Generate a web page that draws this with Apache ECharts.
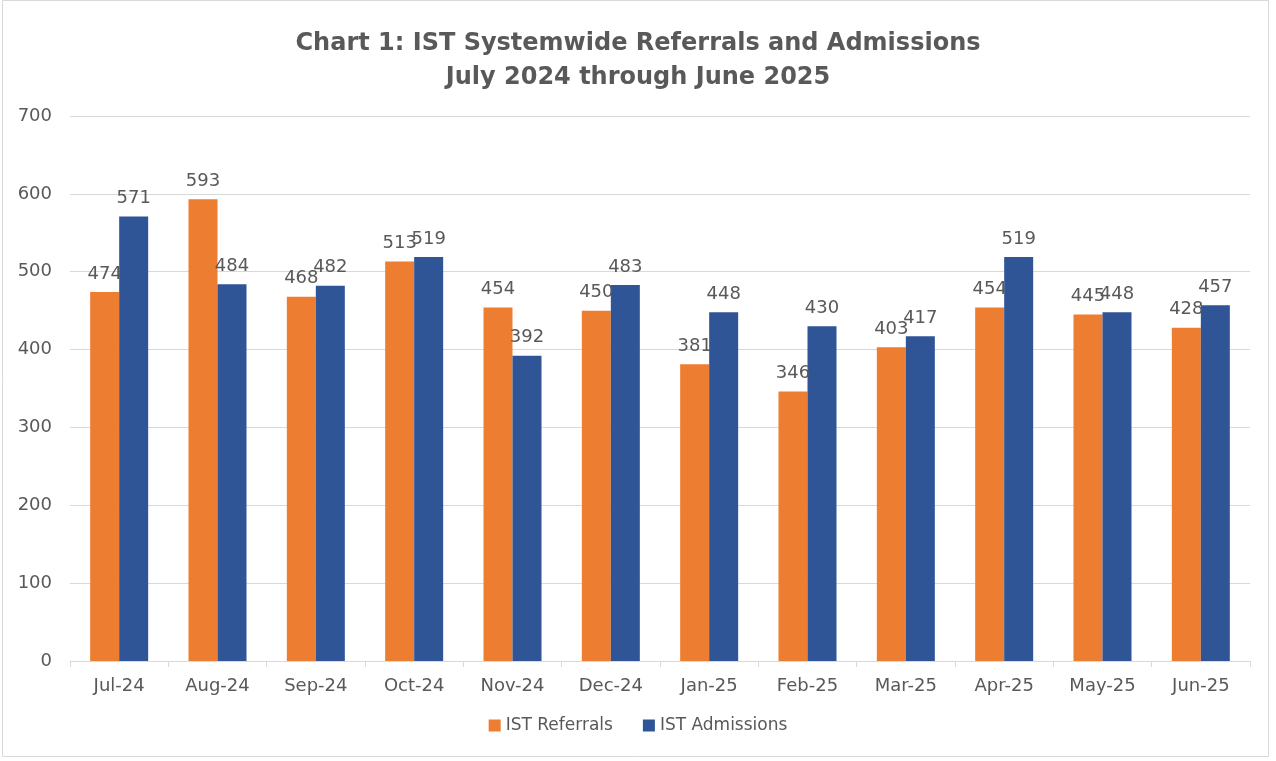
<!DOCTYPE html>
<html>
<head>
<meta charset="utf-8">
<script src="https://cdn.jsdelivr.net/npm/echarts@6/dist/echarts.min.js"></script>
<style>
  html, body { margin: 0; padding: 0; background: #fff; }
  #main { width: 1276px; height: 761px; }
</style>
</head>
<body>
<div id="main"></div>
<script>
"use strict";

var months = ['Jul-24', 'Aug-24', 'Sep-24', 'Oct-24', 'Nov-24', 'Dec-24',
              'Jan-25', 'Feb-25', 'Mar-25', 'Apr-25', 'May-25', 'Jun-25'];
var referrals = [474, 593, 468, 513, 454, 450, 381, 346, 403, 454, 445, 428];
var admissions = [571, 484, 482, 519, 392, 483, 448, 430, 417, 519, 448, 457];
var yTicks = [0, 100, 200, 300, 400, 500, 600, 700];

var font = "'DejaVu Sans', sans-serif";
var grey = '#595959';

var myChart = echarts.init(document.getElementById('main'));

var labelStyle = {
    show: true,
    position: 'top',
    distance: 9,
    color: grey,
    fontFamily: font,
    fontSize: 18
};

var option = {
    animation: false,
    textStyle: { fontFamily: font },
    graphic: [{
        type: 'rect',
        shape: { x: 2.5, y: 0.5, width: 1266, height: 756 },
        style: { fill: 'none', stroke: '#d9d9d9', lineWidth: 1 },
        silent: true
    }],
    title: {
        text: 'Chart 1: IST Systemwide Referrals and Admissions\nJuly 2024 through June 2025',
        left: 'center',
        top: 22,
        textStyle: {
            color: grey,
            fontFamily: font,
            fontWeight: 'bold',
            fontSize: 24,
            lineHeight: 34
        }
    },
    legend: {
        data: ['IST Referrals', 'IST Admissions'],
        bottom: 22,
        left: 'center',
        itemWidth: 12,
        itemHeight: 12,
        itemGap: 30,
        icon: 'rect',
        textStyle: { color: grey, fontFamily: font, fontSize: 17 }
    },
    grid: {
        left: 70,
        right: 26,
        top: 116,
        bottom: 100,
        containLabel: false
    },
    xAxis: {
        type: 'category',
        data: months,
        axisLine: { lineStyle: { color: '#d9d9d9', width: 1 } },
        axisTick: { show: true, length: 6, lineStyle: { color: '#d9d9d9' } },
        axisLabel: { color: grey, fontFamily: font, fontSize: 18, margin: 16 }
    },
    yAxis: {
        type: 'value',
        min: yTicks[0],
        max: yTicks[yTicks.length - 1],
        interval: 100,
        axisLine: { show: false },
        axisTick: { show: false },
        splitLine: { lineStyle: { color: '#d9d9d9', width: 1 } },
        axisLabel: { color: grey, fontFamily: font, fontSize: 18, margin: 18 }
    },
    series: [
        {
            name: 'IST Referrals',
            type: 'bar',
            data: referrals,
            barWidth: 29,
            barGap: '0%',
            itemStyle: { color: '#ED7D31' },
            label: labelStyle
        },
        {
            name: 'IST Admissions',
            type: 'bar',
            data: admissions,
            barWidth: 29,
            barGap: '0%',
            itemStyle: { color: '#2F5597' },
            label: labelStyle
        }
    ]
};
myChart.setOption(option);
</script>
</body>
</html>
